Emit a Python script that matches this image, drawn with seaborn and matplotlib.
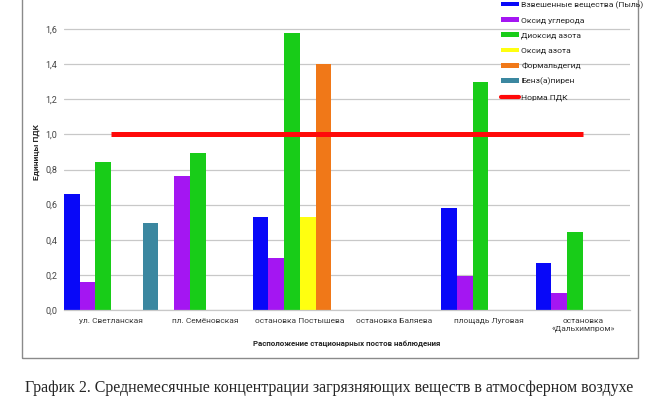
import matplotlib
matplotlib.use("Agg")
import matplotlib.pyplot as plt
from matplotlib.patches import Patch, Rectangle
from matplotlib.lines import Line2D
import numpy as np
import pandas as pd
import seaborn as sns

# ---- data ----
stations = ["ул. Светланская", "пл. Семёновская", "остановка Постышева",
            "остановка Баляева", "площадь Луговая", "остановка\n«Дальхимпром»"]
pollutants = ["Взвешенные вещества (Пыль)", "Оксид углерода", "Диоксид азота",
              "Оксид азота", "Формальдегид", "Бенз(а)пирен"]
dust = [0.66, np.nan, 0.53, np.nan, 0.58, 0.265]
co = [0.16, 0.765, 0.295, np.nan, 0.195, 0.095]
no2 = [0.845, 0.895, 1.575, np.nan, 1.30, 0.445]
no = [np.nan, np.nan, 0.53, np.nan, np.nan, np.nan]
formaldehyde = [np.nan, np.nan, 1.40, np.nan, np.nan, np.nan]
benzpyrene = [0.495, np.nan, np.nan, np.nan, np.nan, np.nan]
norm_pdk = [1.0, 1.0, 1.0, 1.0, 1.0, 1.0]
norm_label = "Норма ПДК"
y_ticks = [0.0, 0.2, 0.4, 0.6, 0.8, 1.0, 1.2, 1.4, 1.6]
grid_top = 1.8

colors = ["#0808f8", "#a416f2", "#18cc18", "#ffff10", "#f07818", "#3b87a0"]

series = [dust, co, no2, no, formaldehyde, benzpyrene]
rows = []
for p, vals in zip(pollutants, series):
    for s, v in zip(stations, vals):
        rows.append({"station": s, "pollutant": p, "value": v})
df = pd.DataFrame(rows)

sns.set_style("white")
plt.rcParams["font.family"] = ["Roboto", "DejaVu Sans"]

fig = plt.figure(figsize=(6.58, 3.99), dpi=100)
ax = fig.add_axes([64 / 658, 1 - 310 / 399, (630 - 64) / 658, 316 / 399])

sns.barplot(data=df.dropna(), x="station", y="value", hue="pollutant",
            order=stations, hue_order=pollutants, palette=colors,
            width=1.0, dodge=True, ax=ax, legend=False, errorbar=None,
            saturation=1.0, linewidth=0)

ax.plot(range(len(stations)), norm_pdk, color="#ff0a0a", lw=3.6,
        solid_capstyle="butt", zorder=5)

ax.set_xlim(-0.5, len(stations) - 0.5)
ax.set_ylim(0, grid_top)
ax.set_yticks(y_ticks)
ax.set_yticklabels([f"{t:.1f}".replace(".", ",") for t in y_ticks],
                   fontsize=6.5, color="#444444")
ax.axhline(grid_top, color="#c8c8c8", lw=0.9, zorder=0)
ax.set_xticks(range(len(stations)))
ax.set_xticklabels(stations, fontsize=6.0, color="#3a3a3a")
ax.tick_params(axis="x", length=0, pad=6)
ax.tick_params(axis="y", length=0, pad=5)
ax.yaxis.grid(True, color="#c8c8c8", lw=0.9)
ax.set_axisbelow(True)
for side in ["top", "right", "left"]:
    ax.spines[side].set_visible(False)
ax.spines["bottom"].set_color("#c8c8c8")
ax.spines["bottom"].set_linewidth(0.9)

ax.set_xlabel("Расположение стационарных постов наблюдения", fontsize=5.7,
              fontweight="bold", labelpad=6)
ax.set_ylabel("Единицы ПДК", fontsize=6.0, fontweight="bold", labelpad=4)

handles = [Patch(facecolor=c, edgecolor="none") for c in colors]
handles.append(Line2D([0], [0], color="#ff0a0a", lw=3))
labels = pollutants + [norm_label]
fig.legend(handles, labels, loc="upper left",
           bbox_to_anchor=(501 / 658, 1 - 1 / 399), frameon=False,
           fontsize=6.1, handlelength=2.1, handleheight=0.5,
           handletextpad=0.3, labelspacing=1.0, borderaxespad=0,
           borderpad=0)

# chart border
fig.add_artist(Rectangle((22 / 658, 1 - 358 / 399), 616 / 658, 400 / 399,
                         transform=fig.transFigure, fill=False,
                         edgecolor="#8a8a8a", lw=1.0))

fig.text(329 / 658, 1 - 388 / 399,
         "График 2. Среднемесячные концентрации загрязняющих веществ в атмосферном воздухе",
         ha="center", va="center", fontsize=11.5,
         family=["Liberation Serif", "DejaVu Serif"])

fig.savefig("out.png", dpi=100)
